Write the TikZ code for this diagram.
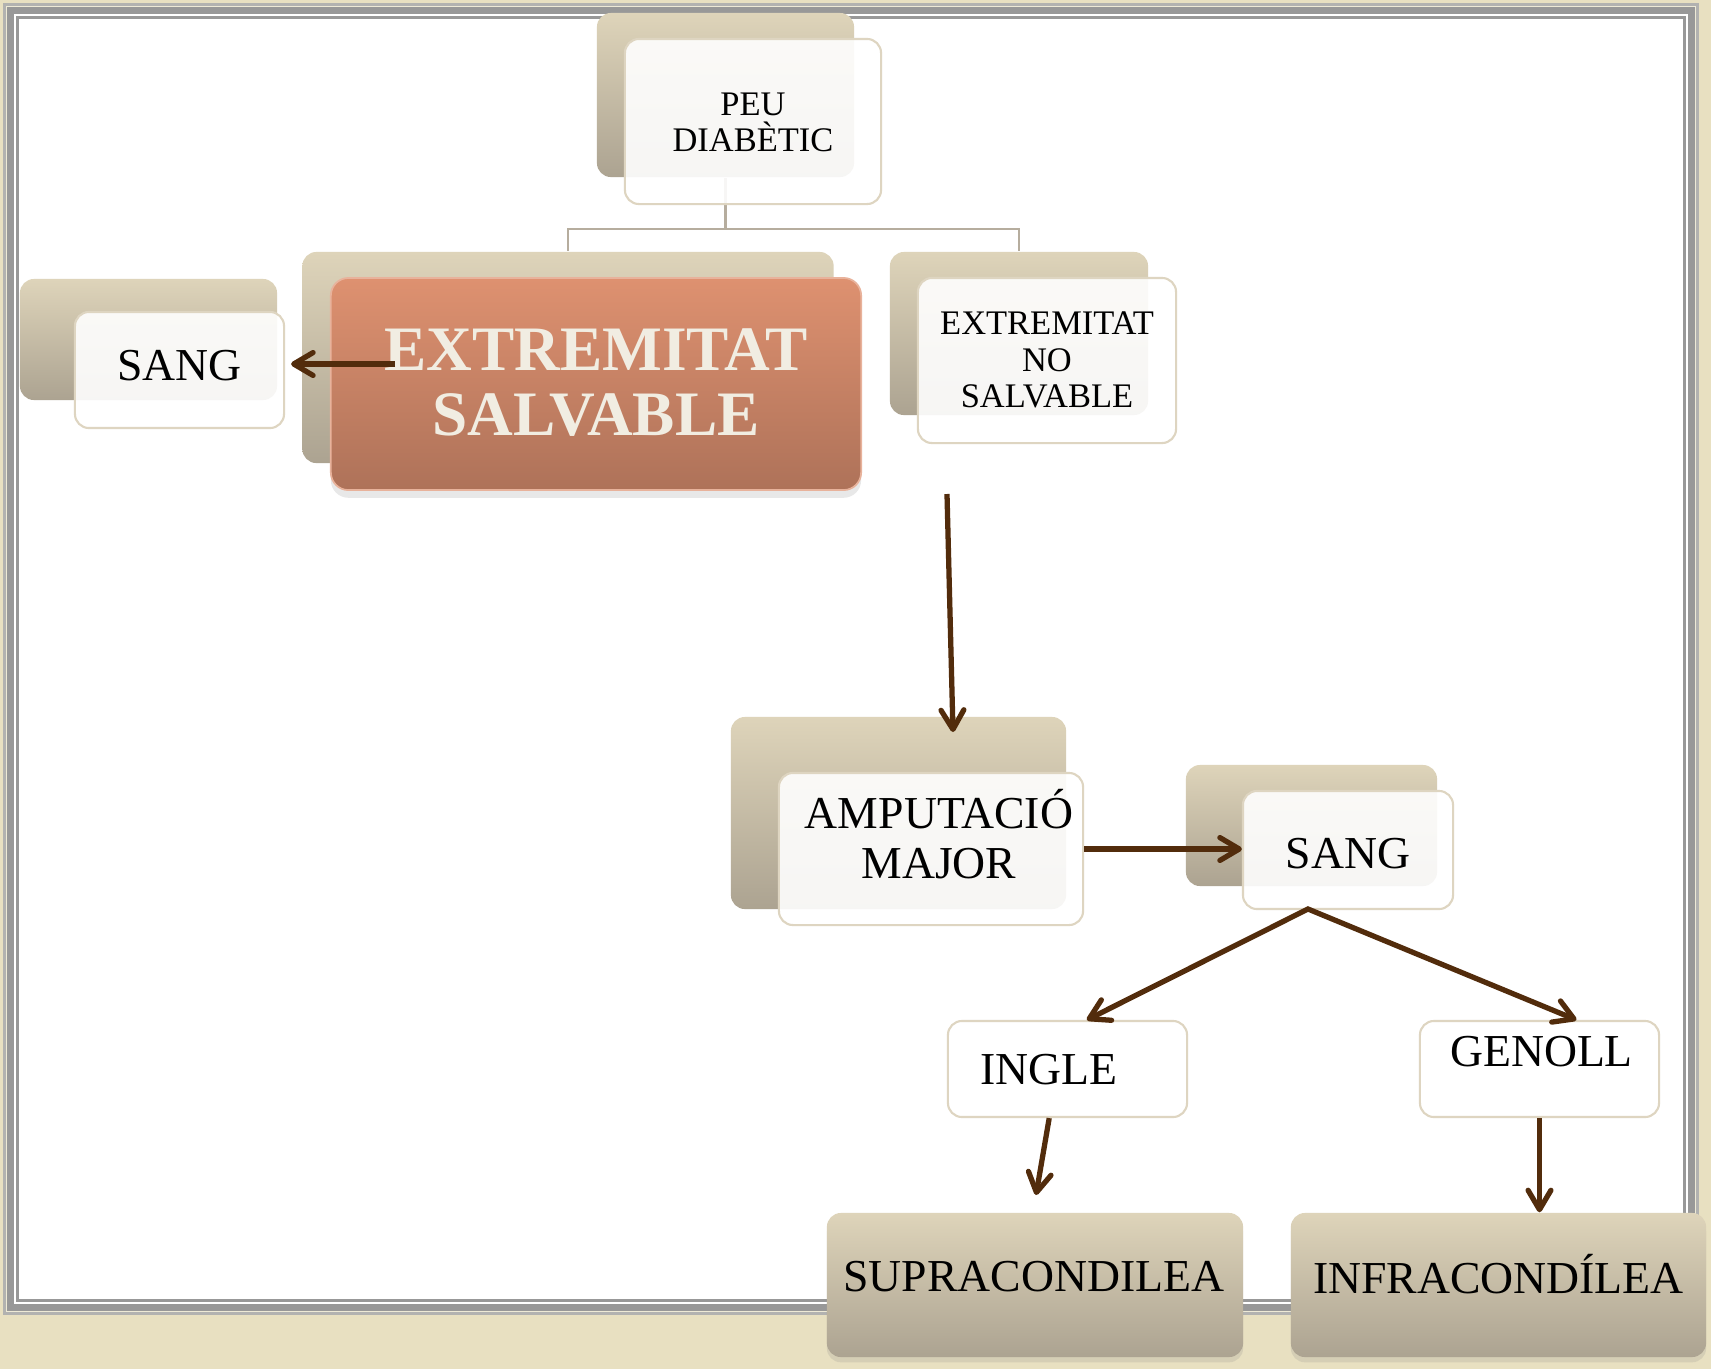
\documentclass[tikz,border=0pt]{standalone}
\usepackage{fontspec}
\setmainfont{Liberation Serif}
\usetikzlibrary{arrows.meta,shadows}

\definecolor{paper}{RGB}{232,224,193}
\definecolor{papercream}{RGB}{238,234,214}
\definecolor{framegray}{RGB}{152,152,152}
\definecolor{framelight}{RGB}{178,178,176}
\definecolor{tantop}{RGB}{222,212,186}
\definecolor{tanbot}{RGB}{172,163,145}
\definecolor{tanedge}{RGB}{222,213,193}
\definecolor{salvtop}{RGB}{222,145,112}
\definecolor{salvbot}{RGB}{174,114,89}
\definecolor{cream}{RGB}{241,237,226}
\definecolor{brownarrow}{RGB}{82,44,12}
\definecolor{treeline}{RGB}{182,173,158}

\begin{document}
\begin{tikzpicture}[x=0.01cm,y=-0.01cm]
	\tikzstyle{backbox} = [rectangle,rounded corners=4pt,top color=tantop,bottom color=tanbot,draw=none,inner sep=0pt]
	\tikzstyle{frontbox} = [rectangle,rounded corners=4pt,draw=tanedge,line width=0.6pt,fill=white,fill opacity=0.9,inner sep=0pt]
	\tikzstyle{salvbox} = [rectangle,rounded corners=5pt,top color=salvtop,bottom color=salvbot,draw=salvtop!70!white,line width=0.5pt,inner sep=0pt,drop shadow={opacity=0.18,shadow xshift=0pt,shadow yshift=-2.2pt}]
	\tikzstyle{endbox} = [backbox,drop shadow={opacity=0.18,shadow xshift=0pt,shadow yshift=-1.5pt}]
	\tikzstyle{smalltext} = [align=center,inner sep=0pt,font=\fontsize{9.8}{10.3}\selectfont]
	\tikzstyle{boxtext} = [align=center,inner sep=0pt,font=\fontsize{13}{14}\selectfont]
	\tikzstyle{bigtext} = [align=center,inner sep=0pt,text=cream,font=\fontsize{18}{18.5}\selectfont\bfseries]
	\tikzstyle{tree} = [draw=treeline,line width=0.6pt]
	\tikzstyle{arrow} = [draw=brownarrow,line width=1.5pt,-{Straight Barb[length=5.5pt,width=6.5pt,round]}]
	\useasboundingbox (0,0) rectangle (1711,1369);
	% paper and frame
	\fill[paper] (0,0) rectangle (1711,1369);
	\fill[framelight] (3,3) rectangle (1699,1315);
	\fill[papercream] (6,6) rectangle (1696,1312);
	\fill[framegray] (7,7) rectangle (1695,1311);
	\fill[white] (14,14) rectangle (1688,1304);
	\fill[framegray] (16,16) rectangle (1686,1302);
	\fill[white] (19,19) rectangle (1683,1299);
	% back boxes
	\foreach \name/\x/\y/\w/\h in {peuback/725.5/95/2.57/1.64, salvback/568/357.5/5.31/2.11,
		sangback/148.5/339.5/2.57/1.21, noback/1019/333.5/2.58/1.63,
		ampback/898.5/813/3.35/1.92, sangrback/1311.5/825.5/2.51/1.21}
		\node[backbox,minimum width=\w cm,minimum height=\h cm] (\name) at (\x,\y) {};
	% tree under the top box
	\draw[tree] (peuback.south) -- ++(0,51) coordinate (treemid) -| (salvback.north);
	\draw[tree] (treemid) -| (noback.north);
	% front boxes
	\node[frontbox,minimum width=2.56cm,minimum height=1.65cm] (peu) at (753,121.5) {};
	\node[salvbox,minimum width=5.30cm,minimum height=2.12cm] (salv) at (596,384) {};
	\node[frontbox,minimum width=2.09cm,minimum height=1.16cm] (sang) at (179.5,370) {};
	\node[frontbox,minimum width=2.58cm,minimum height=1.65cm] (nosalv) at (1047,360.5) {};
	\node[frontbox,minimum width=3.04cm,minimum height=1.52cm] (amp) at (931,849) {};
	\node[frontbox,minimum width=2.10cm,minimum height=1.18cm] (sangr) at (1348,850) {};
	\node[frontbox,minimum width=2.39cm,minimum height=0.96cm] (ingle) at (1067.5,1069) {};
	\node[frontbox,minimum width=2.39cm,minimum height=0.96cm] (genoll) at (1539.5,1069) {};
	% bottom boxes
	\node[endbox,minimum width=4.16cm,minimum height=1.44cm] (supra) at (1035,1285) {};
	\node[endbox,minimum width=4.15cm,minimum height=1.44cm] (infra) at (1498.5,1285) {};
	% texts
	\node[smalltext] (peutext) at (753,122) {PEU\\DIABÈTIC};
	\node[bigtext] (salvtext) at (596,382.5) {EXTREMITAT\\SALVABLE};
	\node[smalltext] (notext) at (1047,360) {EXTREMITAT\\NO\\SALVABLE};
	\node[boxtext,anchor=base] (sangtext) at (179.5,380) {SANG};
	\node[boxtext] (amptext) at (939,834) {AMPUTACIÓ\\MAJOR};
	\node[boxtext,anchor=base] (sangrtext) at (1348,868.5) {SANG};
	\node[boxtext,anchor=base] (ingletext) at (1049,1084) {INGLE};
	\node[boxtext,anchor=base] (genolltext) at (1541.5,1066) {GENOLL};
	\node[boxtext,anchor=base] (supratext) at (1034,1291) {SUPRACONDILEA};
	\node[boxtext,anchor=base] (infratext) at (1498.5,1293) {INFRACONDÍLEA};
	% arrows
	\coordinate (salvout) at (395,364);
	\draw[arrow,shorten >=1.7pt] (salvout) -- (salvout -| sang.east);
	\coordinate (noout) at (947,494);
	\coordinate (ampin) at (953,732);
	\draw[arrow] (noout) -- (ampin);
	\draw[arrow] (amp.east) -- (amp.east -| sangr.west);
	\coordinate (split) at (1308,909);
	\draw[draw=brownarrow,line width=1.5pt,{Straight Barb[length=5.5pt,width=6.5pt,round]}-{Straight Barb[length=5.5pt,width=6.5pt,round]}]
		([xshift=5.5pt]ingle.north) -- (split) -- ([xshift=10.5pt]genoll.north);
	\coordinate (suprain) at (1036,1195);
	\draw[arrow] ([xshift=-5.2pt]ingle.south) -- (suprain);
	\draw[arrow] (genoll.south) -- (genoll.south |- infra.north);
\end{tikzpicture}
\end{document}
